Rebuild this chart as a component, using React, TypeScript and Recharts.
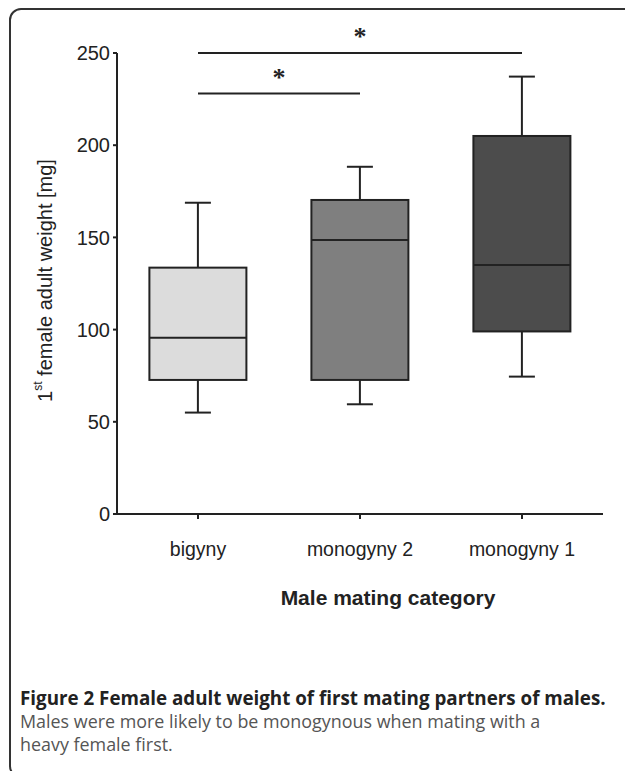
import React from 'react';
import {
  ComposedChart,
  Bar,
  Cell,
  XAxis,
  YAxis,
  ReferenceLine,
  Label,
} from 'recharts';

// box plot summary per male mating category (weights in mg)
const categories = ['bigyny', 'monogyny 2', 'monogyny 1'];
const mins = [55, 59.5, 74.5];
const q1s = [72.7, 72.7, 99];
const medians = [95.6, 148.6, 135];
const q3s = [133.6, 170.3, 205];
const maxs = [168.8, 188.3, 237.2];
const fills = ['#dcdcdc', '#7f7f7f', '#4c4c4c'];
const yTicks = [0, 50, 100, 150, 200, 250];

const data = categories.map((name, i) => ({
  name,
  box: [q1s[i], q3s[i]],
  min: mins[i],
  q1: q1s[i],
  median: medians[i],
  q3: q3s[i],
  max: maxs[i],
}));

const INK = '#222';
const FONT = '"Liberation Sans", Arial, sans-serif';

function BoxShape(props: any) {
  const { x, y, width, height, payload, fill } = props;
  const { q1, q3, median, min, max } = payload;
  // pixels per mg, taken from the bar the library drew for [q1, q3]
  const ppu = height / (q3 - q1);
  const yOf = (v: number) => y + (q3 - v) * ppu;
  const cx = x + width / 2;
  const cap = 13;
  return (
    <g stroke={INK} strokeWidth={2}>
      <line x1={cx} x2={cx} y1={yOf(max)} y2={y} />
      <line x1={cx - cap} x2={cx + cap} y1={yOf(max)} y2={yOf(max)} />
      <line x1={cx} x2={cx} y1={y + height} y2={yOf(min)} />
      <line x1={cx - cap} x2={cx + cap} y1={yOf(min)} y2={yOf(min)} />
      <rect x={x} y={y} width={width} height={height} fill={fill} />
      <line x1={x} x2={x + width} y1={yOf(median)} y2={yOf(median)} />
    </g>
  );
}

function YTitle(props: any) {
  const { viewBox } = props;
  const cx = viewBox.x + 28;
  const cy = viewBox.y + viewBox.height / 2 - 3;
  return (
    <text
      x={cx}
      y={cy}
      transform={`rotate(-90 ${cx} ${cy})`}
      textAnchor="middle"
      dominantBaseline="central"
      fontSize={20}
      fill={INK}
      style={{ fontFamily: FONT }}
    >
      1<tspan fontSize={12} dy={-7}>st</tspan>
      <tspan dy={7}> female adult weight [mg]</tspan>
    </text>
  );
}

function XTitle(props: any) {
  const { viewBox } = props;
  return (
    <text
      x={viewBox.x + viewBox.width / 2 + 28}
      y={597}
      textAnchor="middle"
      fontSize={21}
      fontWeight="bold"
      fill={INK}
      style={{ fontFamily: FONT }}
    >
      Male mating category
    </text>
  );
}

const star = { value: '*', position: 'top' as const, offset: 8, fontSize: 26, fontWeight: 'bold', fill: INK };

export default function App() {
  return (
    <div
      style={{
        position: 'fixed',
        left: 8,
        top: 8,
        width: 617,
        height: 763,
        overflow: 'hidden',
        background: '#fff',
      }}
    >
      <div
        style={{
          position: 'absolute',
          left: 1,
          top: 0,
          width: 800,
          height: 770,
          border: '2px solid #333',
          borderRadius: 12,
          boxSizing: 'border-box',
        }}
      />
      <div style={{ position: 'absolute', left: 0, top: 0 }}>
        <ComposedChart
          width={617}
          height={620}
          data={data}
          margin={{ top: 45, right: 22, left: 9, bottom: 34 }}
          barCategoryGap="20%"
        >
          <XAxis
            dataKey="name"
            height={80}
            tickSize={5}
            tickMargin={23}
            axisLine={{ stroke: INK, strokeWidth: 2 }}
            tickLine={{ stroke: INK, strokeWidth: 2 }}
            tick={{ fill: INK, fontSize: 19.5, fontFamily: FONT }}
          >
            <Label content={<XTitle />} />
          </XAxis>
          <YAxis
            width={100}
            domain={[0, 250]}
            ticks={yTicks}
            tickSize={4}
            tickMargin={3}
            axisLine={{ stroke: INK, strokeWidth: 2 }}
            tickLine={{ stroke: INK, strokeWidth: 2 }}
            tick={{ fill: INK, fontSize: 20, fontFamily: FONT }}
          >
            <Label content={<YTitle />} />
          </YAxis>
          <Bar dataKey="box" shape={<BoxShape />} isAnimationActive={false}>
            {data.map((d, i) => (
              <Cell key={d.name} fill={fills[i]} />
            ))}
          </Bar>
          <ReferenceLine
            segment={[
              { x: 'bigyny', y: 250 },
              { x: 'monogyny 1', y: 250 },
            ]}
            stroke={INK}
            strokeWidth={2}
            ifOverflow="visible"
            label={star}
          />
          <ReferenceLine
            segment={[
              { x: 'bigyny', y: 228 },
              { x: 'monogyny 2', y: 228 },
            ]}
            stroke={INK}
            strokeWidth={2}
            ifOverflow="visible"
            label={star}
          />
        </ComposedChart>
      </div>
      <div
        style={{
          position: 'absolute',
          left: 12,
          top: 679,
          fontFamily: '"Open Sans", "Noto Sans", sans-serif',
          fontSize: 17.9,
          lineHeight: '23px',
          color: '#555',
          whiteSpace: 'nowrap',
        }}
      >
        <b style={{ color: '#222', fontSize: 18.8 }}>Figure 2 Female adult weight of first mating partners of males.</b>
        <br />
        Males were more likely to be monogynous when mating with a
        <br />
        heavy female first.
      </div>
    </div>
  );
}
